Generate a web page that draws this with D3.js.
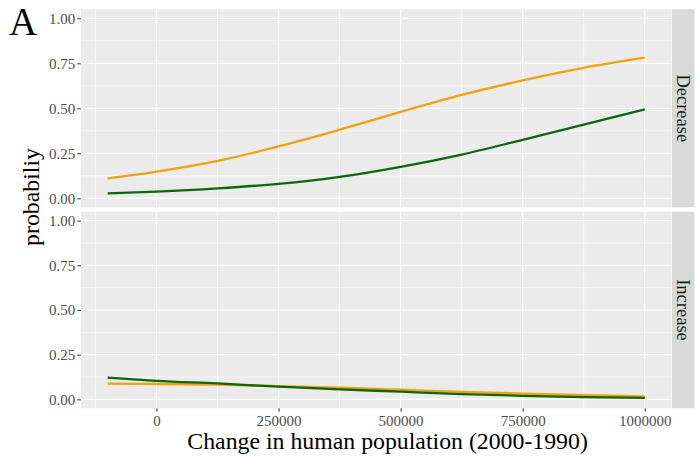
<!DOCTYPE html>
<html>
<head>
<meta charset="utf-8">
<script src="https://cdn.jsdelivr.net/npm/d3@7"></script>
<style>
  html, body { margin: 0; padding: 0; background: #ffffff; }
  svg { display: block; }
  text { font-family: "Liberation Serif", "Times New Roman", serif; }
</style>
</head>
<body>
<svg id="chart" width="699" height="461"></svg>
<script>
// Change in human population (2000-1990) used for the fitted curves
const populationChange = [-100000, 0, 125000, 250000, 375000, 500000, 625000, 750000, 875000, 1000000];

// Facet rows
const facets = ["Decrease", "Increase"];

// Predicted probabilities, orange group
const orangeDecrease = [0.110, 0.148, 0.208, 0.288, 0.381, 0.480, 0.574, 0.655, 0.725, 0.781];
const orangeIncrease = [0.088, 0.086, 0.082, 0.074, 0.065, 0.054, 0.042, 0.032, 0.023, 0.017];

// Predicted probabilities, green group
const greenDecrease = [0.027, 0.037, 0.055, 0.080, 0.119, 0.175, 0.243, 0.325, 0.409, 0.494];
const greenIncrease = [0.122, 0.104, 0.089, 0.071, 0.056, 0.043, 0.029, 0.020, 0.013, 0.008];

// Axis ticks
const xTicks = [0, 250000, 500000, 750000, 1000000];
const xMinorTicks = [-125000, 125000, 375000, 625000, 875000];
const yTicks = [0, 0.25, 0.5, 0.75, 1.0];
const yMinorTicks = [0.125, 0.375, 0.625, 0.875];

const seriesByFacet = {
  Decrease: [
    { color: "#F3A20E", values: orangeDecrease },
    { color: "#0B670B", values: greenDecrease }
  ],
  Increase: [
    { color: "#F3A20E", values: orangeIncrease },
    { color: "#0B670B", values: greenIncrease }
  ]
};

const svg = d3.select("#chart");

const panelLeft = 80.8, panelRight = 671.6;
const panelRows = [
  { top: 9.3, bottom: 207.3 },
  { top: 211.7, bottom: 408.3 }
];
const stripLeft = 672, stripRight = 694.4;

const x = d3.scaleLinear()
  .domain([-155000, 1055000])
  .range([panelLeft, panelRight]);

facets.forEach((facet, i) => {
  const row = panelRows[i];
  const y = d3.scaleLinear()
    .domain([-0.05, 1.05])
    .range([row.bottom, row.top]);

  const g = svg.append("g");

  // panel background
  g.append("rect")
    .attr("x", panelLeft).attr("y", row.top)
    .attr("width", panelRight - panelLeft).attr("height", row.bottom - row.top)
    .attr("fill", "#EBEBEB");

  // minor grid
  g.selectAll(".ymin").data(yMinorTicks).enter().append("line")
    .attr("x1", panelLeft).attr("x2", panelRight)
    .attr("y1", d => y(d)).attr("y2", d => y(d))
    .attr("stroke", "#ffffff").attr("stroke-width", 0.6);
  g.selectAll(".xmin").data(xMinorTicks).enter().append("line")
    .attr("y1", row.top).attr("y2", row.bottom)
    .attr("x1", d => x(d)).attr("x2", d => x(d))
    .attr("stroke", "#ffffff").attr("stroke-width", 0.6);

  // major grid
  g.selectAll(".ymaj").data(yTicks).enter().append("line")
    .attr("x1", panelLeft).attr("x2", panelRight)
    .attr("y1", d => y(d)).attr("y2", d => y(d))
    .attr("stroke", "#ffffff").attr("stroke-width", 1.2);
  g.selectAll(".xmaj").data(xTicks).enter().append("line")
    .attr("y1", row.top).attr("y2", row.bottom)
    .attr("x1", d => x(d)).attr("x2", d => x(d))
    .attr("stroke", "#ffffff").attr("stroke-width", 1.2);

  // fitted curves
  const line = d3.line()
    .x((d, k) => x(populationChange[k]))
    .y(d => y(d))
    .curve(d3.curveMonotoneX);
  seriesByFacet[facet].forEach(s => {
    g.append("path")
      .attr("d", line(s.values))
      .attr("fill", "none")
      .attr("stroke", s.color)
      .attr("stroke-width", 2.3)
      .attr("stroke-linecap", "butt");
  });

  // y axis
  const yAxis = d3.axisLeft(y)
    .tickValues(yTicks)
    .tickFormat(d3.format(".2f"))
    .tickSize(3.5)
    .tickPadding(2);
  const ya = g.append("g")
    .attr("transform", `translate(${panelLeft},0)`)
    .call(yAxis);
  ya.select(".domain").remove();
  ya.selectAll(".tick line").attr("stroke", "#333333").attr("stroke-width", 1);
  ya.selectAll(".tick text")
    .attr("fill", "#4D4D4D")
    .style("font-family", '"Liberation Serif", serif')
    .style("font-size", "15px");

  // strip on the right
  g.append("rect")
    .attr("x", stripLeft).attr("y", row.top)
    .attr("width", stripRight - stripLeft).attr("height", row.bottom - row.top)
    .attr("fill", "#D9D9D9");
  g.append("text")
    .attr("transform", `translate(${(stripLeft + stripRight) / 2},${(row.top + row.bottom) / 2}) rotate(90)`)
    .attr("text-anchor", "middle")
    .attr("dominant-baseline", "central")
    .attr("fill", "#1A1A1A")
    .style("font-size", "18.5px")
    .text(facet);
});

// x axis under the bottom panel
const xAxis = d3.axisBottom(x)
  .tickValues(xTicks)
  .tickFormat(d3.format("d"))
  .tickSize(3.5)
  .tickPadding(4);
const xa = svg.append("g")
  .attr("transform", `translate(0,${panelRows[1].bottom})`)
  .call(xAxis);
xa.select(".domain").remove();
xa.selectAll(".tick line").attr("stroke", "#333333").attr("stroke-width", 1);
xa.selectAll(".tick text")
  .attr("fill", "#4D4D4D")
  .style("font-family", '"Liberation Serif", serif')
  .style("font-size", "15px");

// axis titles
svg.append("text")
  .attr("x", (panelLeft + stripRight) / 2)
  .attr("y", 449)
  .attr("text-anchor", "middle")
  .attr("fill", "#000000")
  .style("font-size", "23.8px")
  .text("Change in human population (2000-1990)");

svg.append("text")
  .attr("transform", `translate(39,197) rotate(-90)`)
  .attr("text-anchor", "middle")
  .attr("fill", "#000000")
  .style("font-size", "23.8px")
  .text("probabiliy");

// panel letters: this figure's "A" and the top of the next figure's "B"
svg.append("text")
  .attr("x", 9)
  .attr("y", 35)
  .attr("fill", "#000000")
  .style("font-size", "39px")
  .text("A");

svg.append("text")
  .attr("x", 9)
  .attr("y", 488)
  .attr("fill", "#000000")
  .style("font-size", "39px")
  .text("B");
</script>
</body>
</html>
